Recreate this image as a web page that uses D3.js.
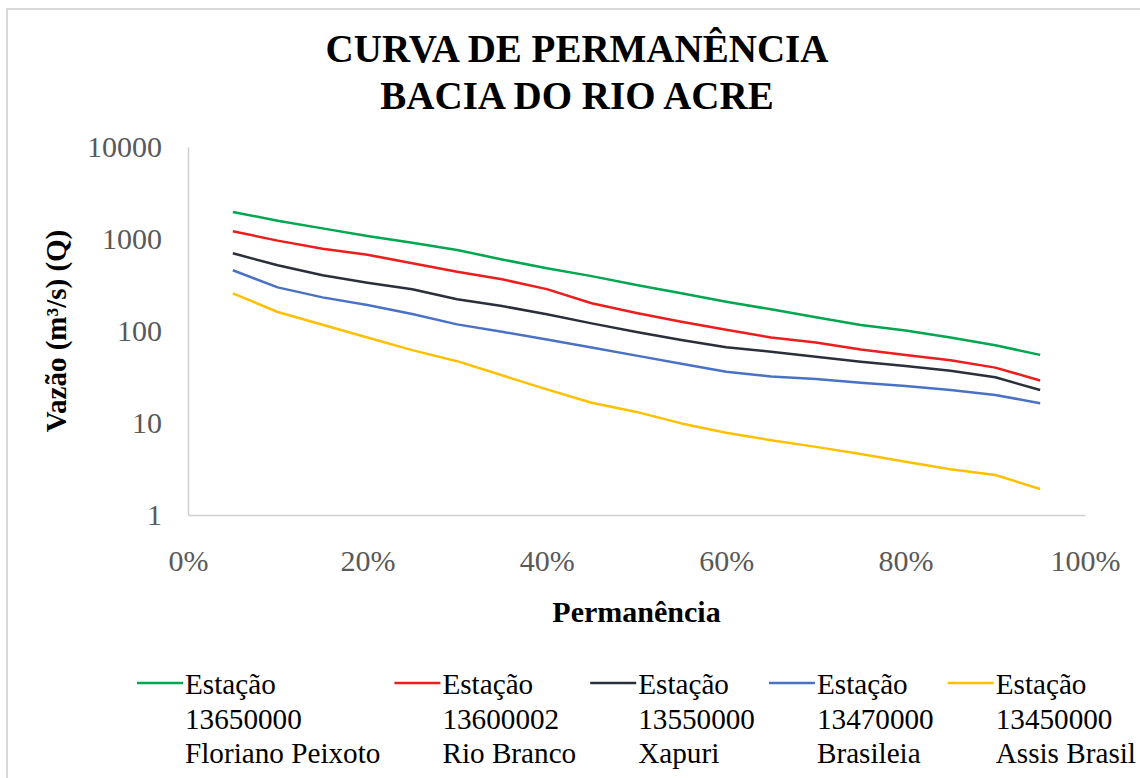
<!DOCTYPE html>
<html>
<head>
<meta charset="utf-8">
<script src="https://cdn.jsdelivr.net/npm/d3@7"></script>
<style>
  html, body { margin: 0; padding: 0; background: #ffffff; }
  svg { display: block; }
  svg text { font-family: "Liberation Serif", "Times New Roman", serif; }
</style>
</head>
<body>
<svg id="chart" width="1140" height="778"></svg>
<script>
// Flow-duration data: exceedance probability (x) and discharge in m³/s per station
const permanence = [0.05, 0.10, 0.15, 0.20, 0.25, 0.30, 0.35, 0.40, 0.45, 0.50,
                    0.55, 0.60, 0.65, 0.70, 0.75, 0.80, 0.85, 0.90, 0.95];

const florianoPeixoto = [1970, 1580, 1305, 1080, 910, 760, 600, 480, 395, 316,
                         257, 208, 172, 141, 116, 101, 85, 70, 55];
const rioBranco       = [1215, 960, 785, 675, 545, 440, 365, 285, 200, 157,
                         126, 103, 85, 75, 63, 55, 48, 40, 29];
const xapuri          = [700, 518, 403, 335, 284, 221, 187, 152, 121, 97.5,
                         80, 66.5, 59.6, 52.6, 46.4, 41.7, 37, 31.4, 22.8];
const brasileia       = [457, 298, 232, 192, 153, 118, 98, 81, 66, 54,
                         44, 36, 32, 30, 27.4, 25.2, 22.8, 20.2, 16.4];
const assisBrasil     = [257, 161, 117, 85, 62, 47, 33, 23.2, 16.6, 13.2,
                         9.9, 7.85, 6.5, 5.5, 4.6, 3.8, 3.14, 2.72, 1.92];

const stationCodes = ["13650000", "13600002", "13550000", "13470000", "13450000"];
const stationNames = ["Floriano Peixoto", "Rio Branco", "Xapuri", "Brasileia", "Assis Brasil"];
const stationSeries = [florianoPeixoto, rioBranco, xapuri, brasileia, assisBrasil];
const palette = ["#00A650", "#EE1C1C", "#2B2F3A", "#4A72C4", "#FFC000"];

const yTicks = [1, 10, 100, 1000, 10000];
const xTicks = [0, 0.2, 0.4, 0.6, 0.8, 1.0];

const serif = "Liberation Serif, Times New Roman, serif";
const svg = d3.select("#chart");

// chart-area frame
svg.append("rect")
  .attr("x", 7).attr("y", 9).attr("width", 1160).attr("height", 800)
  .attr("fill", "#ffffff").attr("stroke", "#d9d9d9").attr("stroke-width", 2);

const plot = { left: 188, right: 1085, top: 147, bottom: 515 };

const x = d3.scaleLinear().domain([0, 1]).range([plot.left, plot.right]);
const y = d3.scaleLog().domain([1, 10000]).range([plot.bottom, plot.top]);

// title
const title = svg.append("text")
  .attr("text-anchor", "middle").attr("font-family", serif)
  .attr("font-weight", "bold").attr("font-size", 39).attr("fill", "#000");
title.append("tspan").attr("x", 577).attr("y", 62).text("CURVA DE PERMANÊNCIA");
title.append("tspan").attr("x", 577).attr("y", 109).text("BACIA DO RIO ACRE");

// axes
const yAxis = d3.axisLeft(y).tickValues(yTicks).tickFormat(d3.format("d")).tickSize(0).tickPadding(26);
const gy = svg.append("g").attr("transform", `translate(${plot.left},0)`).call(yAxis)
  .attr("font-family", serif);
gy.select(".domain").attr("stroke", "#cfcfcf").attr("stroke-width", 1.5);
gy.selectAll("text").attr("font-family", serif).attr("font-size", 30)
  .attr("fill", "#595959").attr("dy", "0.33em");

const xAxis = d3.axisBottom(x).tickValues(xTicks).tickFormat(d3.format(".0%")).tickSize(0).tickPadding(0);
const gx = svg.append("g").attr("transform", `translate(0,${plot.bottom})`).call(xAxis)
  .attr("font-family", serif);
gx.select(".domain").attr("stroke", "#cfcfcf").attr("stroke-width", 1.5);
gx.selectAll("text").attr("font-family", serif).attr("font-size", 30)
  .attr("fill", "#595959").attr("dy", null).attr("y", 56);

// axis titles
svg.append("text")
  .attr("transform", `translate(66,${(plot.top + plot.bottom) / 2}) rotate(-90)`)
  .attr("text-anchor", "middle").attr("font-family", serif)
  .attr("font-weight", "bold").attr("font-size", 29)
  .text("Vazão (m³/s) (Q)");

svg.append("text")
  .attr("x", (plot.left + plot.right) / 2).attr("y", 622)
  .attr("text-anchor", "middle").attr("font-family", serif)
  .attr("font-weight", "bold").attr("font-size", 30)
  .text("Permanência");

// duration curves
const line = d3.line()
  .x((d, i) => x(permanence[i]))
  .y(d => y(d));

svg.append("g").selectAll("path")
  .data(stationSeries)
  .join("path")
  .attr("d", d => line(d))
  .attr("fill", "none")
  .attr("stroke", (d, i) => palette[i])
  .attr("stroke-width", 2.5)
  .attr("stroke-linejoin", "round");

// legend: swatch line followed by three text lines per station
const legend = svg.append("g");
const lineLen = 46, swatchGap = 2, itemGap = 14, rowStep = 34.5, firstBase = 694;
const items = stationNames.map((name, i) => {
  const g = legend.append("g");
  g.append("line")
    .attr("x1", 0).attr("x2", lineLen)
    .attr("y1", firstBase - 11).attr("y2", firstBase - 11)
    .attr("stroke", palette[i]).attr("stroke-width", 2.5);
  const t = g.append("text").attr("font-family", serif).attr("font-size", 29.2).attr("fill", "#000");
  ["Estação", stationCodes[i], name].forEach((s, k) => {
    t.append("tspan").attr("x", lineLen + swatchGap).attr("y", firstBase + k * rowStep).text(s);
  });
  let w = 0;
  t.selectAll("tspan").each(function () { w = Math.max(w, this.getComputedTextLength()); });
  return { g, width: lineLen + swatchGap + w };
});
const total = d3.sum(items, d => d.width) + itemGap * (items.length - 1);
let cursor = (plot.left + plot.right) / 2 - total / 2;
items.forEach(it => {
  it.g.attr("transform", `translate(${cursor},0)`);
  cursor += it.width + itemGap;
});
</script>
</body>
</html>
